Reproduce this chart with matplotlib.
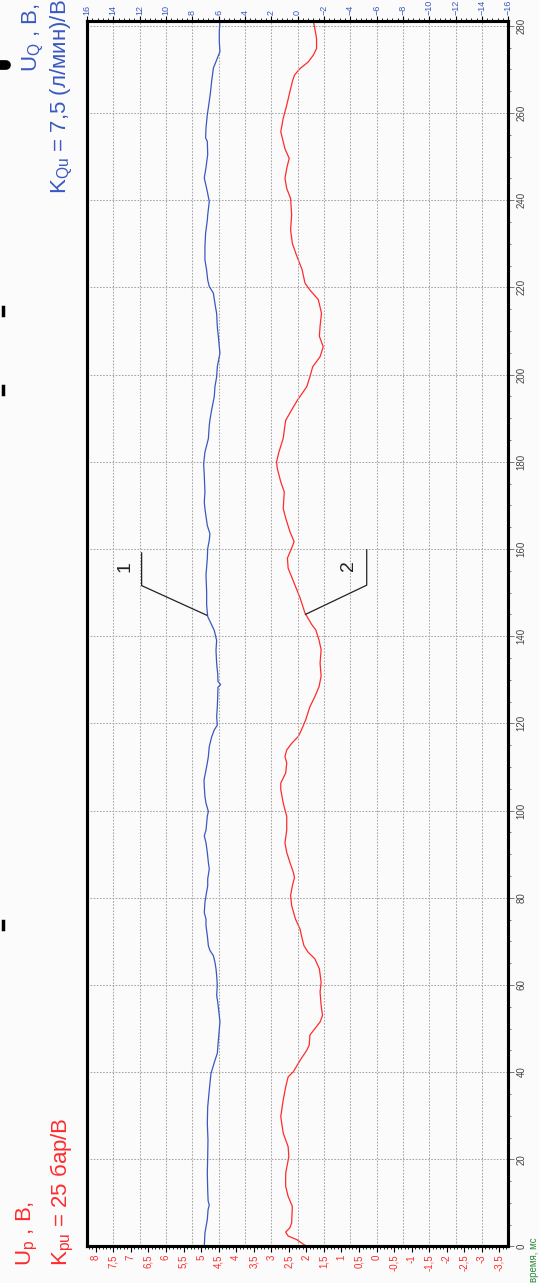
import numpy as np
import matplotlib.pyplot as plt
from matplotlib.lines import Line2D

plt.rcParams['font.family'] = ['Liberation Sans', 'DejaVu Sans']
plt.rcParams['mathtext.fontset'] = 'custom'
plt.rcParams['mathtext.rm'] = 'Liberation Sans'
plt.rcParams['mathtext.it'] = 'Liberation Sans'

# curve 2 - pressure signal U_p, V (left/bottom scale)
t_p = [0.0, 1.6, 2.4, 3.3, 4.3, 5.4, 9.2, 11.5, 13.8, 16.8, 20.6, 22.9, 26.0, 29.8,
       33.6, 36.6, 38.9, 40.1, 42.7, 45.0, 46.2, 48.5, 51.5, 53.0, 55.3, 58.4, 60.6,
       63.7, 66.0, 67.5, 69.0, 71.3, 72.8, 75.1, 78.2, 80.5, 82.7, 84.6, 85.8, 88.1,
       90.4, 92.6, 95.5, 98.7, 101.7, 104.8, 106.3, 108.6, 110.9, 112.4, 113.9, 115.4,
       117.0, 118.5, 120.8, 123.8, 126.1, 128.4, 130.8, 133.8, 136.9, 139.1, 141.4,
       142.7, 145.3, 148.8, 152.6, 155.6, 157.9, 160.2, 161.7, 164.0, 167.1, 169.3,
       173.1, 175.4, 178.5, 180.0, 182.3, 185.4, 188.4, 189.5, 191.9, 194.2, 197.2,
       199.5, 201.8, 204.1, 206.4, 208.8, 211.1, 214.1, 217.2, 219.4, 221.0, 224.0,
       227.8, 230.1, 233.2, 236.6, 240.4, 242.7, 245.0, 247.3, 249.6, 251.8, 255.7,
       258.8, 261.8, 264.9, 267.2, 268.7, 270.2, 271.7, 273.3, 274.8, 277.1, 279.4,
       281.0]
u_p = [1.99, 2.28, 2.52, 2.59, 2.47, 2.42, 2.40, 2.52, 2.59, 2.59, 2.50, 2.52, 2.66, 2.73,
       2.66, 2.59, 2.52, 2.37, 2.18, 1.99, 1.92, 1.90, 1.61, 1.54, 1.58, 1.61, 1.58,
       1.63, 1.76, 1.95, 2.07, 2.14, 2.18, 2.31, 2.42, 2.45, 2.40, 2.34, 2.37, 2.47,
       2.56, 2.61, 2.56, 2.56, 2.66, 2.73, 2.73, 2.59, 2.56, 2.61, 2.56, 2.42,
       2.23, 2.14, 2.02, 1.90, 1.76, 1.64, 1.58, 1.61, 1.58, 1.64, 1.73,
       1.85, 2.04, 2.18, 2.37, 2.52, 2.54, 2.42, 2.35, 2.47, 2.59, 2.66,
       2.63, 2.73, 2.83, 2.85, 2.78, 2.66, 2.61, 2.59, 2.42, 2.25, 1.99,
       1.90, 1.82, 1.61, 1.52, 1.63, 1.61, 1.57, 1.66, 1.90, 2.04, 2.12,
       2.30, 2.40, 2.45, 2.42, 2.45, 2.56, 2.61, 2.56, 2.49, 2.61, 2.73,
       2.66, 2.56, 2.47, 2.40, 2.34, 2.18, 1.95, 1.80, 1.71, 1.71, 1.76,
       1.80]

# curve 1 - flow signal U_Q, V (right/top scale)
t_q = [0.0, 3.1, 6.2, 8.5, 9.5, 10.5, 13.0, 16.8, 20.6, 24.5, 28.3, 32.0, 35.9, 39.7,
       42.7, 44.3, 47.3, 51.5, 53.0, 56.1, 57.6, 59.9, 62.2, 63.7, 65.2, 66.7, 67.9,
       69.0, 71.3, 73.6, 75.1, 76.6, 78.9, 80.5, 82.7, 84.3, 86.6, 88.1, 90.4, 92.6,
       94.2, 95.5, 98.7, 99.8, 101.7, 103.2, 105.5, 107.0, 109.3, 110.9, 112.4, 114.7,
       116.9, 118.5, 119.6, 121.5, 123.8, 126.1, 128.3, 128.9, 129.6, 131.4, 133.7,
       136.8, 139.0, 141.3, 142.6, 144.5, 147.1, 150.2, 154.0, 157.8, 160.1, 162.0,
       163.5, 165.4, 169.2, 170.8, 173.0, 176.9, 179.5, 182.2, 185.3, 188.4, 189.6,
       191.9, 195.0, 197.2, 199.5, 201.8, 204.9, 206.4, 208.7, 211.0, 214.0, 216.3,
       218.7, 220.2, 221.7, 223.9, 226.3, 229.3, 232.4, 235.4, 236.6, 239.7, 242.0,
       245.1, 247.5, 250.5, 253.5, 254.3, 256.6, 259.6, 262.7, 265.0, 267.3, 270.3,
       271.8, 274.1, 276.4, 278.7, 281.0]
u_q = [7.09, 7.04, 6.86, 6.80, 6.71, 6.80, 6.83, 6.86, 6.83, 6.81, 6.86, 6.83, 6.71, 6.58,
       6.28, 6.10, 6.02, 5.90, 5.95, 6.07, 6.15, 6.10, 6.15, 6.20, 6.28, 6.40, 6.66,
       6.78, 6.86, 6.96, 6.96, 7.09, 7.04, 6.96, 6.83, 6.83, 6.71, 6.78, 6.86, 6.96,
       7.09, 6.96, 6.86, 6.78, 6.96, 7.04, 7.09, 7.11, 6.96, 6.86, 6.78, 6.71,
       6.53, 6.33, 6.10, 6.15, 6.10, 6.07, 6.05, 5.85, 6.05, 6.07, 6.15,
       6.20, 6.15, 6.33, 6.53, 6.83, 6.91, 6.91, 6.96, 6.86, 6.83, 6.71,
       6.66, 6.86, 7.04, 7.09, 7.04, 7.09, 7.14, 7.04, 6.78, 6.71, 6.66,
       6.53, 6.33, 6.28, 6.15, 6.10, 5.90, 5.95, 6.02, 6.10, 6.15, 6.28,
       6.40, 6.71, 6.83, 6.91, 7.04, 7.04, 6.99, 6.86, 6.83, 6.71, 6.86,
       7.09, 6.96, 6.83, 6.86, 6.99, 6.96, 6.86, 6.71, 6.61, 6.53, 6.40,
       6.20, 5.90, 5.95, 5.95, 5.90]

# leader lines for the curve numbers (top scale units, ms)
lead1_x, lead1_t = [11.85, 11.85, 6.9], [159.1, 151.6, 144.8]
lead2_x, lead2_t = [-5.25, -5.25, -0.6], [159.8, 151.7, 145.0]

RED = '#ff2b2b'
BLUE = '#3a58c0'
BG = '#fbfbfb'
GRID = '#a8a8a8'


def comma(v, pos=None):
    s = '%g' % v
    if s == '-0':
        s = '0'
    return s.replace('.', ',')


fig = plt.figure(figsize=(5.39, 12.83), dpi=100, facecolor=BG)
ax = fig.add_axes([0.1614, 0.02845, 0.7815, 0.9548], facecolor=BG)
axb = ax.twiny()

# bottom scale (U_p)
ax.set_xlim(8.25, -3.75)
ax.set_ylim(0, 281)
ax.set_xticks(np.arange(-3.5, 8.01, 0.5))
ax.set_xticks(np.arange(-3.7, 8.21, 0.1), minor=True)
ax.xaxis.set_major_formatter(plt.FuncFormatter(comma))
ax.tick_params(axis='x', which='both', direction='out', labelsize=7, labelcolor=RED,
               labelrotation=90, pad=2)
ax.tick_params(axis='x', which='major', length=4, width=0.8)
ax.tick_params(axis='x', which='minor', length=2.5, width=0.6)

# time scale on the right
ax.yaxis.tick_right()
ax.set_yticks(np.arange(0, 281, 20))
ax.set_yticks(np.arange(0, 281, 5), minor=True)
ax.tick_params(axis='y', which='both', direction='out', labelsize=7, labelcolor='#444444',
               labelrotation=90, pad=2, width=0.6, color='#666666')
ax.tick_params(axis='y', which='major', length=4)
ax.tick_params(axis='y', which='minor', length=2.5)
for lab in ax.get_yticklabels():
    lab.set_va('center')
ax.grid(axis='y', color=GRID, linestyle=(0, (1.6, 1.4)), linewidth=0.75)

# top scale (U_Q)
axb.set_xlim(16, -16)
axb.set_xticks(np.arange(-16, 16.1, 2))
axb.set_xticks(np.arange(-16, 16.1, 0.4), minor=True)
axb.tick_params(axis='x', which='both', direction='out', labelsize=6.5, labelcolor=BLUE,
                labelrotation=90, pad=1)
axb.tick_params(axis='x', which='major', length=3.5, width=0.8)
axb.tick_params(axis='x', which='minor', length=2, width=0.6)
axb.grid(axis='x', color=GRID, linestyle=(0, (1.6, 1.4)), linewidth=0.75)

for a in (ax, axb):
    for sp in a.spines.values():
        sp.set_linewidth(2.2)
        sp.set_color('black')

ax.plot(u_p, t_p, color=RED, lw=0.9)
axb.plot(u_q, t_q, color=BLUE, lw=0.9)

axb.plot(lead1_x, lead1_t, color='#222222', lw=0.9)
axb.plot(lead2_x, lead2_t, color='#222222', lw=0.9)
axb.text(13.1, 155.9, '1', rotation=90, ha='center', va='center', fontsize=14, color='#222222')
axb.text(-3.9, 156.3, '2', rotation=90, ha='center', va='center', fontsize=14, color='#222222')

# axis captions
fig.text(27 / 539, 1 - 1266 / 1283, r'U$_{\rm p}$ , В,', rotation=90, ha='center', va='bottom',
         fontsize=16, color=RED)
fig.text(62 / 539, 1 - 1266 / 1283, r'K$_{\rm pu}$ = 25 бар/В', rotation=90, ha='center',
         va='bottom', fontsize=16, color=RED)
fig.text(33 / 539, 1 - 72 / 1283, r'U$_{\rm Q}$ , В,', rotation=90, ha='center', va='bottom',
         fontsize=16, color=BLUE)
fig.text(62 / 539, 1 - 194 / 1283, r'K$_{\rm Qu}$ = 7,5 (л/мин)/В', rotation=90, ha='center',
         va='bottom', fontsize=16, color=BLUE)
fig.text(534 / 539, 0.001, 'время, мс', rotation=90, ha='center', va='bottom',
         fontsize=7, color='#2e8b3e')

# bits of cut-off text at the left edge
fig.add_artist(Line2D([0.0, 0.012], [1 - 65 / 1283] * 2, color='black', lw=7,
                      solid_capstyle='round', transform=fig.transFigure))
for yy in [311, 390, 925]:
    fig.add_artist(Line2D([0.005, 0.005], [1 - (yy - 4) / 1283, 1 - (yy + 4) / 1283],
                          color='black', lw=2.5, transform=fig.transFigure))

fig.savefig('out.png', dpi=100, facecolor=BG)
